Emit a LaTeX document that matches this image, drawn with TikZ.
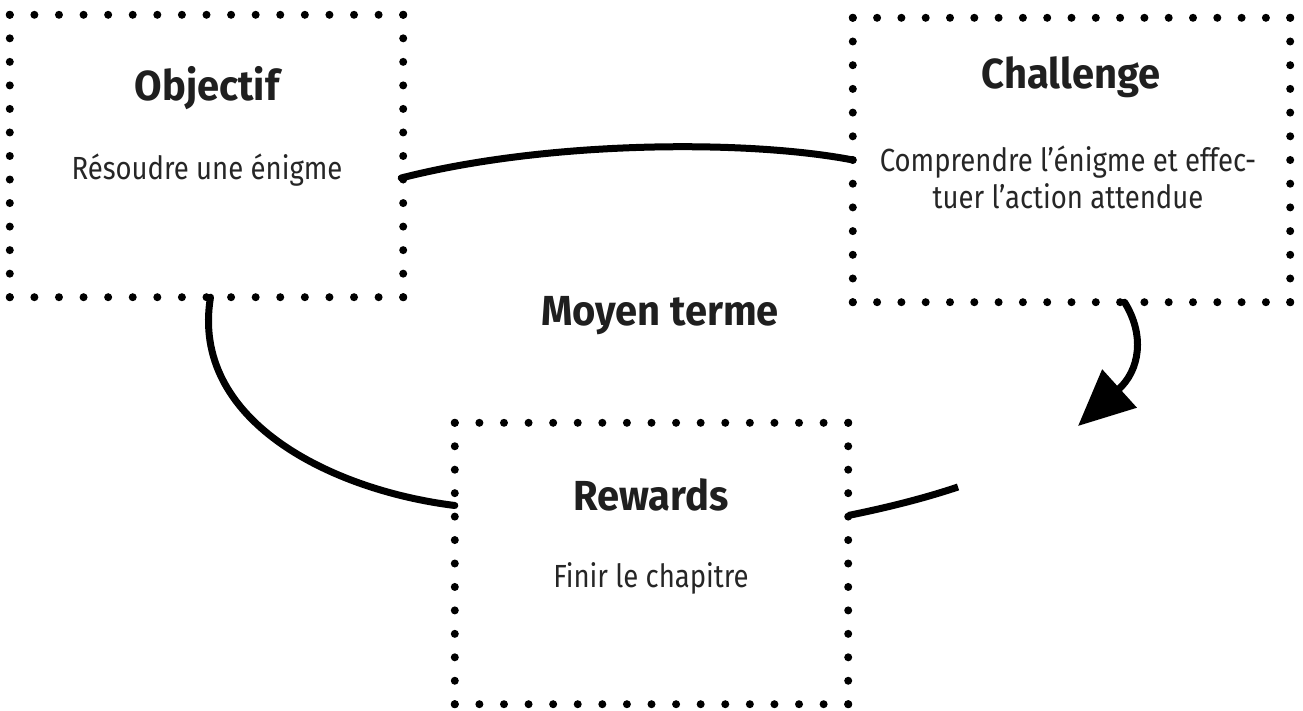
\documentclass[tikz,border=0pt]{standalone}
\usepackage{fontspec}
\setmainfont{Fira Sans}[FakeStretch=0.86, BoldFeatures={FakeStretch=0.95}]
\usetikzlibrary{calc,arrows.meta}

% dotted frame around a box node: #1 node, #2 gaps along x, #3 gaps along y
\newcommand\dotframe[3]{%
  \foreach \i in {0,...,#2}{%
    \fill ($(#1.north west)!{\i/#2}!(#1.north east)$) circle (4);
    \fill ($(#1.south west)!{\i/#2}!(#1.south east)$) circle (4);
  }
  \foreach \j in {0,...,#3}{%
    \fill ($(#1.north west)!{\j/#3}!(#1.south west)$) circle (4);
    \fill ($(#1.north east)!{\j/#3}!(#1.south east)$) circle (4);
  }
}

\tikzset{
  box/.style={rectangle, inner sep=0pt, minimum width=#1},
  title/.style={font=\fontsize{42}{46}\selectfont\bfseries, text=black!88},
  body/.style={font=\fontsize{32}{37}\selectfont, text=black!85, align=center},
  link/.style={line width=7pt, line cap=round},
}

\begin{document}
\begin{tikzpicture}[x=1pt, y=-1pt]
  \useasboundingbox (0,0) rectangle (1303,711);

  % boxes
  \node[box=393, minimum height=282] (obj) at (206.5,156) {};
  \node[box=437, minimum height=284] (chal) at (1071.5,160) {};
  \node[box=393, minimum height=281] (rew) at (651.5,563.5) {};

  \dotframe{obj}{16}{12}
  \dotframe{chal}{18}{12}
  \dotframe{rew}{16}{12}

  % texts
  \node[title] (objT) at (207,88) {Objectif};
  \node[body] (objB) at (207,170) {Résoudre une énigme};
  \node[title] (chalT) at (1071,77) {Challenge};
  \node[body] (chalB) at (1068,177) {Comprendre l’énigme et effec-\\tuer l’action attendue};
  \node[title] (rewT) at (651,495) {Rewards};
  \node[body] (rewB) at (651,578) {Finir le chapitre};
  \node[title] (mid) at (660,316) {Moyen terme};

  % connectors
  \coordinate (tip) at (1078,426);
  \coordinate (loose) at (958,487);
  \draw[link] ($(obj.east)+(-2,22)$) .. controls (550,140) and (750,140) .. ($(chal.west)+(0,0)$);
  \draw[link] ($(obj.south)+(4,0)$) .. controls (190,420) and (330,490) .. ($(rew.west)+(0,-58)$);
  \draw[link, -{Triangle[length=56pt,width=50pt]}] ($(chal.south)+(53,0)$) .. controls (1145,335) and (1140,370) .. (tip);
  \draw[link, line cap=butt] ($(rew.east)+(0,-48)$) .. controls (890,507) and (925,498) .. (loose);
\end{tikzpicture}
\end{document}
